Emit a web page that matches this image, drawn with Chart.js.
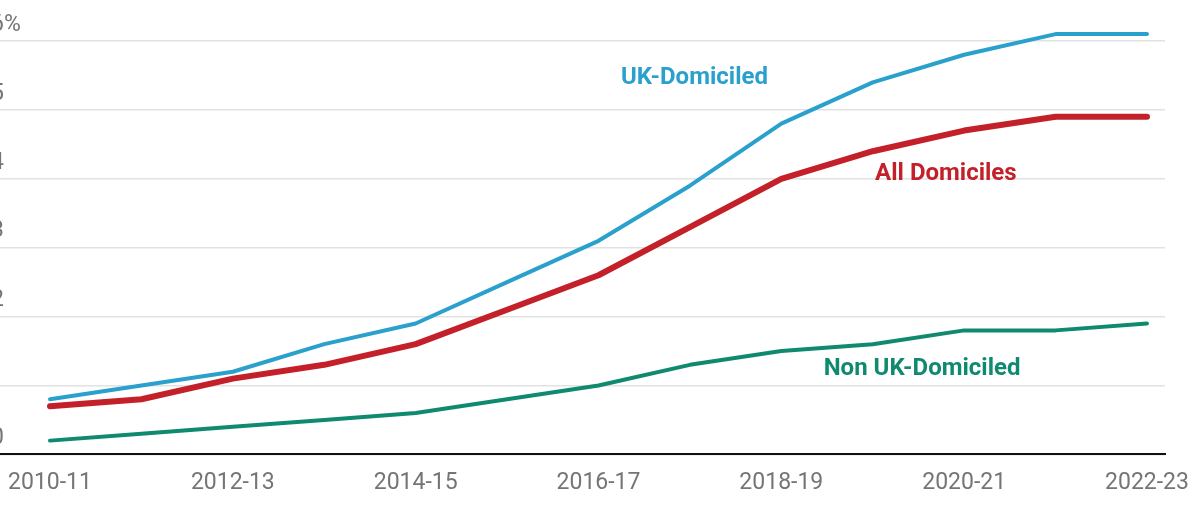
<!DOCTYPE html>
<html>
<head>
<meta charset="utf-8">
<script src="https://cdn.jsdelivr.net/npm/chart.js@4.4.0/dist/chart.umd.min.js"></script>
<style>
    html, body { margin: 0; padding: 0; background: #fff; }
</style>
</head>
<body>
<canvas id="chart" width="1200" height="506"></canvas>
<script>
const seasons = ['2010-11', '2011-12', '2012-13', '2013-14', '2014-15', '2015-16', '2016-17',
    '2017-18', '2018-19', '2019-20', '2020-21', '2021-22', '2022-23'];
const allDomiciles = [0.7, 0.8, 1.1, 1.3, 1.6, 2.1, 2.6, 3.3, 4.0, 4.4, 4.7, 4.9, 4.9];
const ukDomiciled = [0.8, 1.0, 1.2, 1.6, 1.9, 2.5, 3.1, 3.9, 4.8, 5.4, 5.8, 6.1, 6.1];
const nonUkDomiciled = [0.2, 0.3, 0.4, 0.5, 0.6, 0.8, 1.0, 1.3, 1.5, 1.6, 1.8, 1.8, 1.9];
const yTicks = [0, 1, 2, 3, 4, 5, 6];
const xTicks = [0, 2, 4, 6, 8, 10, 12];

const RED = '#c3202a';
const BLUE = '#2aa0cc';
const GREEN = '#0f8a6f';
const GREY = '#757575';

// direct labels next to the lines, placed in data units
const seriesLabels = [
    { text: 'UK-Domiciled', color: BLUE, x: 7.05, y: 5.47 },
    { text: 'All Domiciles', color: RED, x: 9.8, y: 4.07 },
    { text: 'Non UK-Domiciled', color: GREEN, x: 9.54, y: 1.24 },
];

const toPoints = values => values.map((v, i) => ({ x: i, y: v }));

const labelPlugin = {
    id: 'labels',
    afterDatasetsDraw(chart) {
        const { ctx, scales: { x, y } } = chart;
        ctx.save();
        ctx.font = '23px Roboto';
        ctx.fillStyle = GREY;
        ctx.textAlign = 'left';
        ctx.textBaseline = 'middle';
        yTicks.forEach(v => {
            const text = v === yTicks[yTicks.length - 1] ? v + '%' : String(v);
            ctx.fillText(text, -9, y.getPixelForValue(v) - 16);
        });

        ctx.font = 'bold 24px Roboto';
        ctx.textAlign = 'center';
        seriesLabels.forEach(l => {
            ctx.fillStyle = l.color;
            ctx.fillText(l.text, x.getPixelForValue(l.x), y.getPixelForValue(l.y));
        });
        ctx.restore();
    }
};

const lineStyle = {
    fill: false,
    pointRadius: 0,
    pointHoverRadius: 0,
    tension: 0,
    borderCapStyle: 'round',
    borderJoinStyle: 'round',
    clip: false,
};

new Chart(document.getElementById('chart'), {
    type: 'line',
    data: {
        datasets: [
            { ...lineStyle, label: 'All Domiciles', data: toPoints(allDomiciles), borderColor: RED, borderWidth: 6 },
            { ...lineStyle, label: 'UK-Domiciled', data: toPoints(ukDomiciled), borderColor: BLUE, borderWidth: 4 },
            { ...lineStyle, label: 'Non UK-Domiciled', data: toPoints(nonUkDomiciled), borderColor: GREEN, borderWidth: 4 },
        ],
    },
    options: {
        responsive: false,
        devicePixelRatio: 1,
        animation: false,
        layout: { padding: { top: 41, right: 35, bottom: -6, left: 0 } },
        plugins: {
            legend: { display: false },
            tooltip: { enabled: false },
        },
        scales: {
            x: {
                type: 'linear',
                min: -0.547,
                max: 12.197,
                afterBuildTicks: scale => { scale.ticks = xTicks.map(v => ({ value: v })); },
                // the end labels may overhang the plot area, don't let them squeeze it
                afterFit: scale => { scale.paddingLeft = 0; scale.paddingRight = 0; },
                grid: { display: false, drawTicks: false },
                border: { display: true, color: '#111', width: 2 },
                ticks: {
                    padding: 15,
                    color: GREY,
                    font: { family: 'Roboto', size: 23 },
                    maxRotation: 0,
                    autoSkip: false,
                    callback: value => seasons[value],
                },
            },
            y: {
                min: 0,
                max: 6,
                afterBuildTicks: scale => { scale.ticks = yTicks.map(v => ({ value: v })); },
                grid: { color: '#e2e2e2', lineWidth: 1.5, drawTicks: false },
                border: { display: false },
                ticks: { display: false },
            },
        },
    },
    plugins: [labelPlugin],
});
</script>
</body>
</html>
